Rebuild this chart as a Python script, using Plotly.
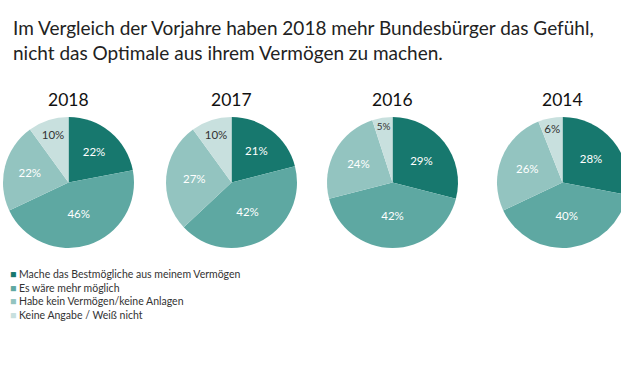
import plotly.graph_objects as go

# ---- data ----
years = ["2018", "2017", "2016", "2014"]
categories = [
    "Mache das Bestmögliche aus meinem Vermögen",
    "Es wäre mehr möglich",
    "Habe kein Vermögen/keine Anlagen",
    "Keine Angabe / Weiß nicht",
]
values_2018 = [22, 46, 22, 10]
values_2017 = [21, 42, 27, 10]
values_2016 = [29, 42, 24, 5]
values_2014 = [28, 40, 26, 6]
series = [values_2018, values_2017, values_2016, values_2014]

title_text = ("Im Vergleich der Vorjahre haben 2018 mehr Bundesbürger das Gefühl,<br>"
              "nicht das Optimale aus ihrem Vermögen zu machen.")

# ---- style ----
colors = ["#17786E", "#5EA8A2", "#93C4C0", "#C8E0DE"]
text_colors = ["white", "white", "white", "#333333"]
FONT = "Lato"

W, H = 640, 383
# pie bounding boxes in pixels (left, right) and (top, bottom)
pie_x_px = [(3, 134), (166, 297), (327, 458), (497, 628)]
pie_y_px = (117, 248)

fig = go.Figure()
for i, (yr, vals) in enumerate(zip(years, series)):
    x0, x1 = pie_x_px[i]
    fig.add_trace(go.Pie(
        labels=categories,
        values=vals,
        sort=False,
        direction="clockwise",
        rotation=0,
        marker=dict(colors=colors, line=dict(width=0)),
        texttemplate="%{value}%",
        textposition="inside",
        insidetextorientation="horizontal",
        textfont=dict(family=FONT, size=11.5, color=text_colors),
        domain=dict(x=[x0 / W, x1 / W],
                    y=[1 - pie_y_px[1] / H, 1 - pie_y_px[0] / H]),
        showlegend=False,
        hoverinfo="label+value",
    ))
    fig.add_annotation(
        text=yr, xref="paper", yref="paper",
        x=(x0 + x1) / 2 / W, y=1 - 100 / H,
        xanchor="center", yanchor="middle", showarrow=False,
        font=dict(family=FONT, size=17.5, color="#111111"),
    )

# legend built as text lines
legend_lines = [f"<span style='color:{c}'>■</span> {lab}" for c, lab in zip(colors, categories)]
fig.add_annotation(
    text="<br>".join(legend_lines),
    xref="paper", yref="paper", x=8 / W, y=1 - 266 / H,
    xanchor="left", yanchor="top", align="left", showarrow=False,
    font=dict(family=FONT, size=10.5, color="#333333"),
)

fig.add_annotation(
    text=title_text,
    xref="paper", yref="paper", x=11 / W, y=1 - 14 / H,
    xanchor="left", yanchor="top", align="left", showarrow=False,
    font=dict(family=FONT, size=19, color="#222222"),
)

fig.update_layout(
    width=W, height=H,
    margin=dict(l=0, r=0, t=0, b=0),
    paper_bgcolor="white", plot_bgcolor="white",
)

fig.write_html("out.html", config={"displayModeBar": False},
               post_script="document.body.style.overflow='hidden';document.body.style.margin='0';")
